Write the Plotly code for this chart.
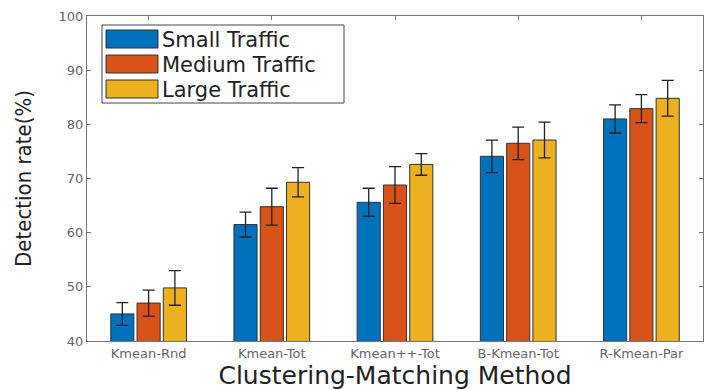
import plotly.graph_objects as go

categories = ["Kmean-Rnd", "Kmean-Tot", "Kmean++-Tot", "B-Kmean-Tot", "R-Kmean-Par"]
series_names = ["Small Traffic", "Medium Traffic", "Large Traffic"]
small_vals = [45.0, 61.5, 65.6, 74.1, 81.0]
small_err = [2.1, 2.3, 2.6, 3.0, 2.6]
medium_vals = [47.0, 64.8, 68.8, 76.5, 82.9]
medium_err = [2.4, 3.4, 3.4, 3.0, 2.6]
large_vals = [49.8, 69.3, 72.6, 77.1, 84.8]
large_err = [3.2, 2.7, 2.0, 3.3, 3.3]
colors = ["#0072BD", "#D95319", "#EDB120"]
y_ticks = [40, 50, 60, 70, 80, 90, 100]

L, R, T, B = 87, 1, 16, 49
PW, PH = 704 - L - R, 390 - T - B


def px(x):
    return (x - L) / PW


def py(y):
    return 1 - (y - T) / PH


fig = go.Figure()
for name, vals, errs, col in zip(series_names, [small_vals, medium_vals, large_vals],
                                 [small_err, medium_err, large_err], colors):
    fig.add_trace(go.Bar(
        x=categories, y=vals, name=name,
        marker=dict(color=col, line=dict(color="#333333", width=1)),
        error_y=dict(type="data", array=errs, visible=True, color="#222222",
                     thickness=1.3, width=6),
        showlegend=False,
    ))

# custom legend (large swatches like MATLAB)
fig.add_shape(type="rect", xref="paper", yref="paper",
              x0=px(102), x1=px(344), y0=py(103), y1=py(25),
              line=dict(color="#444444", width=1), fillcolor="white", layer="above")
for i, (name, col) in enumerate(zip(series_names, colors)):
    yc = 39 + i * 25
    fig.add_shape(type="rect", xref="paper", yref="paper",
                  x0=px(106), x1=px(158), y0=py(yc + 9), y1=py(yc - 9),
                  line=dict(color="#333333", width=1), fillcolor=col, layer="above")
    fig.add_annotation(xref="paper", yref="paper", x=px(160), y=py(yc + 1),
                       text=name, showarrow=False, xanchor="left", yanchor="middle",
                       font=dict(family="DejaVu Sans", size=21, color="#222222"))

fig.update_layout(
    width=704, height=390,
    margin=dict(l=L, r=R, t=T, b=B, autoexpand=False),
    plot_bgcolor="white", paper_bgcolor="white",
    barmode="group", bargap=0.36, bargroupgap=0.12,
    font=dict(family="DejaVu Sans", color="#555555"),
)
fig.update_xaxes(
    range=[-0.5, 4.5], showline=True, linecolor="#777777", linewidth=1, mirror="ticks",
    ticks="inside", ticklen=4, tickcolor="#777777", automargin=False,
    tickfont=dict(size=13, color="#666666"),
    title=dict(text="Clustering-Matching Method", standoff=5,
               font=dict(family="DejaVu Sans", size=25, color="#222222")),
)
fig.update_yaxes(
    range=[40, 100], tickvals=y_ticks, showline=True, linecolor="#777777", linewidth=1,
    mirror="ticks", ticks="inside", ticklen=4, tickcolor="#777777", showgrid=False,
    zeroline=False, tickfont=dict(size=13, color="#666666"), automargin=False,
    title=dict(text="Detection rate(%)", standoff=20,
               font=dict(family="DejaVu Sans Condensed, DejaVu Sans", size=22, color="#222222")),
)

fig.write_html("out.html", config={"displayModeBar": False},
               post_script="document.body.style.margin='0';")
